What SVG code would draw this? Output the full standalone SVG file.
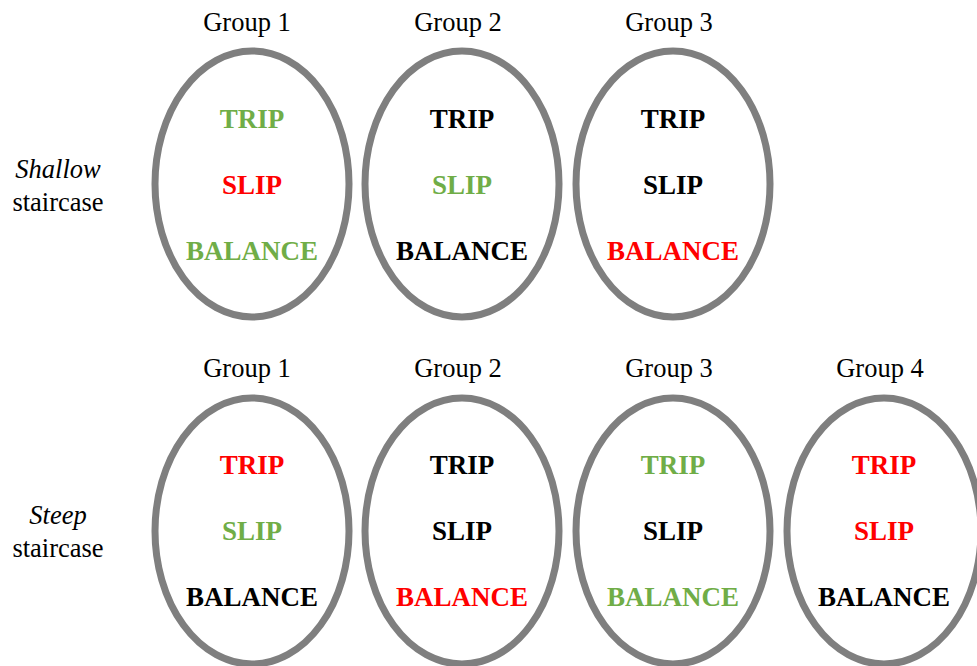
<svg xmlns="http://www.w3.org/2000/svg" width="977" height="666" viewBox="0 0 977 666">
  <style>
    .ring { fill: none; stroke: #7f7f7f; stroke-width: 7; }
    .lbl { font-family: "Liberation Serif", "Times New Roman", serif; font-size: 26.5px; fill: #000; text-anchor: middle; }
    .it { font-style: italic; }
    .word { font-family: "Liberation Serif", "Times New Roman", serif; font-size: 27px; font-weight: bold; text-anchor: middle; }
    .g { fill: #70ad47; }
    .r { fill: #ff0000; }
    .k { fill: #000; }
  </style>
  <rect width="977" height="666" fill="#fff"/>

  <!-- row labels -->
  <g id="row-shallow">
    <text class="lbl it" x="58" y="178">Shallow</text>
    <text class="lbl" x="58" y="211">staircase</text>
  </g>
  <g id="row-steep">
    <text class="lbl it" x="58" y="524">Steep</text>
    <text class="lbl" x="58" y="557">staircase</text>
  </g>

  <!-- shallow staircase groups -->
  <g id="shallow-g1">
    <text class="lbl" x="247" y="31">Group 1</text>
    <ellipse class="ring" cx="252" cy="184" rx="97" ry="133"/>
    <text class="word g" x="252" y="128">TRIP</text>
    <text class="word r" x="252" y="194">SLIP</text>
    <text class="word g" x="252" y="260">BALANCE</text>
  </g>
  <g id="shallow-g2">
    <text class="lbl" x="458" y="31">Group 2</text>
    <ellipse class="ring" cx="462" cy="184" rx="97" ry="133"/>
    <text class="word k" x="462" y="128">TRIP</text>
    <text class="word g" x="462" y="194">SLIP</text>
    <text class="word k" x="462" y="260">BALANCE</text>
  </g>
  <g id="shallow-g3">
    <text class="lbl" x="669" y="31">Group 3</text>
    <ellipse class="ring" cx="673" cy="184" rx="97" ry="133"/>
    <text class="word k" x="673" y="128">TRIP</text>
    <text class="word k" x="673" y="194">SLIP</text>
    <text class="word r" x="673" y="260">BALANCE</text>
  </g>

  <!-- steep staircase groups -->
  <g id="steep-g1">
    <text class="lbl" x="247" y="377">Group 1</text>
    <ellipse class="ring" cx="252" cy="531" rx="97" ry="133"/>
    <text class="word r" x="252" y="474">TRIP</text>
    <text class="word g" x="252" y="540">SLIP</text>
    <text class="word k" x="252" y="606">BALANCE</text>
  </g>
  <g id="steep-g2">
    <text class="lbl" x="458" y="377">Group 2</text>
    <ellipse class="ring" cx="462" cy="531" rx="97" ry="133"/>
    <text class="word k" x="462" y="474">TRIP</text>
    <text class="word k" x="462" y="540">SLIP</text>
    <text class="word r" x="462" y="606">BALANCE</text>
  </g>
  <g id="steep-g3">
    <text class="lbl" x="669" y="377">Group 3</text>
    <ellipse class="ring" cx="673" cy="531" rx="97" ry="133"/>
    <text class="word g" x="673" y="474">TRIP</text>
    <text class="word k" x="673" y="540">SLIP</text>
    <text class="word g" x="673" y="606">BALANCE</text>
  </g>
  <g id="steep-g4">
    <text class="lbl" x="880" y="377">Group 4</text>
    <ellipse class="ring" cx="884" cy="531" rx="97" ry="133"/>
    <text class="word r" x="884" y="474">TRIP</text>
    <text class="word r" x="884" y="540">SLIP</text>
    <text class="word k" x="884" y="606">BALANCE</text>
  </g>
</svg>
